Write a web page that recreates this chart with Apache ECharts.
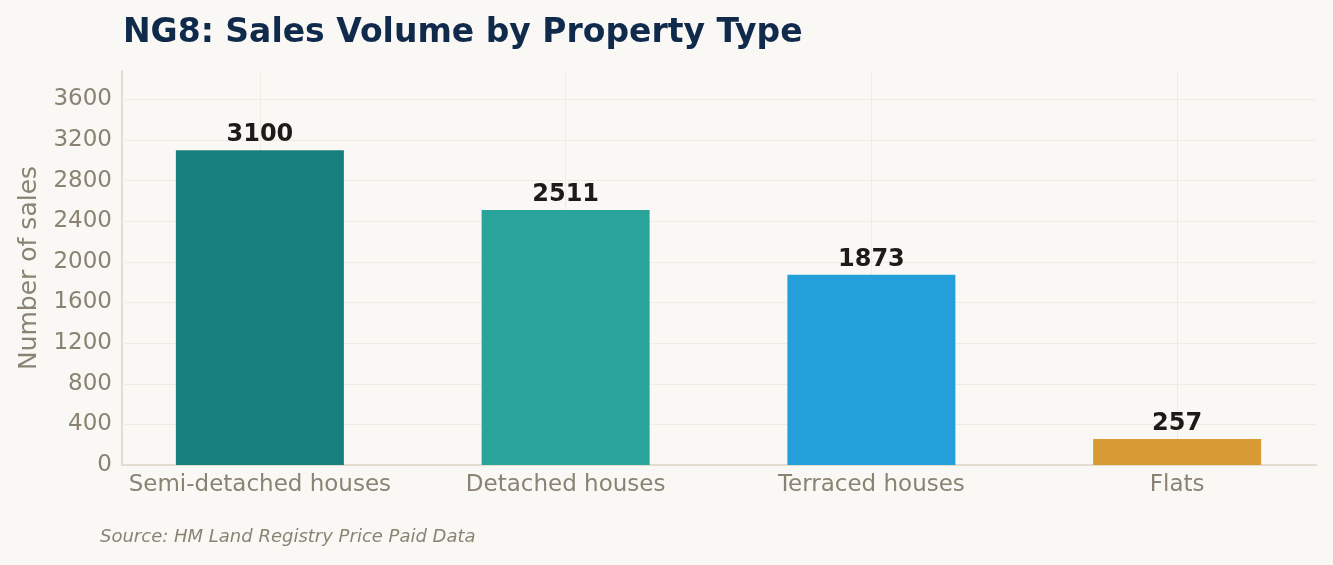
<!DOCTYPE html>
<html>
<head>
<meta charset="utf-8">
<script src="https://cdn.jsdelivr.net/npm/echarts@6/dist/echarts.min.js"></script>
<style>
  html, body { margin: 0; padding: 0; background: #F9F8F4; }
  #chart { width: 1333px; height: 565px; }
</style>
</head>
<body>
<div id="chart"></div>
<script>
let categories = ['Semi-detached houses', 'Detached houses', 'Terraced houses', 'Flats']
let sales = [3100, 2511, 1873, 257]
let barColors = ['#17807E', '#2AA39A', '#239FDA', '#D89A33']
let yTicks = [400, 800, 1200, 1600, 2000, 2400, 2800, 3200, 3600]

let myChart = echarts.init(document.getElementById('chart'))
let gridColor = '#EFECE4'
let textGrey = '#8A8373'

let option = {
  backgroundColor: '#F9F8F4',
  animation: false,
  title: {
    text: 'NG8: Sales Volume by Property Type',
    left: 118,
    top: 12,
    textStyle: { fontFamily: 'DejaVu Sans', fontSize: 33, fontWeight: 'bold', color: '#102A4C' }
  },
  graphic: [{
    type: 'text',
    left: 100,
    top: 528,
    style: {
      text: 'Source: HM Land Registry Price Paid Data',
      fontFamily: 'DejaVu Sans', fontSize: 18, fontStyle: 'italic', fill: textGrey
    }
  }],
  // grid 0 carries the y axis and horizontal grid, grid 1 places the bars
  grid: [
    { left: 122, right: 17, top: 71, bottom: 100 },
    { left: 107, right: 3, top: 71, bottom: 100 }
  ],
  xAxis: [
    {
      gridIndex: 0, type: 'category', data: categories,
      axisLine: { show: true, lineStyle: { color: '#E2DDCF', width: 2 } },
      axisTick: { show: false }, axisLabel: { show: false }, splitLine: { show: false }
    },
    {
      gridIndex: 1, type: 'category', data: categories,
      axisLine: { show: false }, axisTick: { show: false },
      axisLabel: { interval: 0, fontFamily: 'DejaVu Sans', fontSize: 23, color: textGrey, margin: 9 },
      splitLine: { show: false }
    }
  ],
  yAxis: [
    {
      gridIndex: 0, type: 'value', min: 0, max: 3880, interval: 400,
      name: 'Number of sales', nameLocation: 'middle', nameGap: 80,
      nameTextStyle: { fontFamily: 'DejaVu Sans', fontSize: 25, color: textGrey },
      axisLine: { show: true, lineStyle: { color: '#E2DDCF', width: 2 } },
      axisTick: { show: false },
      axisLabel: {
        fontFamily: 'DejaVu Sans', fontSize: 23, color: textGrey, margin: 10, showMaxLabel: false,
        formatter: v => String(v)
      },
      splitLine: { show: false }
    },
    {
      gridIndex: 1, type: 'value', min: 0, max: 3880, interval: 400, show: false,
      splitLine: { show: false }
    }
  ],
  series: [
    {
      type: 'line', xAxisIndex: 0, yAxisIndex: 0, data: [], z: 1,
      markLine: {
        z: 1, silent: true, symbol: 'none', label: { show: false },
        lineStyle: { color: gridColor, width: 1, type: 'solid' },
        data: yTicks.map(v => ({ yAxis: v }))
      }
    },
    {
      type: 'line', xAxisIndex: 1, yAxisIndex: 1, data: [], z: 1,
      markLine: {
        z: 1, silent: true, symbol: 'none', label: { show: false },
        lineStyle: { color: gridColor, width: 1, type: 'solid' },
        data: categories.map(c => ({ xAxis: c }))
      }
    },
    {
      type: 'bar', xAxisIndex: 1, yAxisIndex: 1, z: 3,
      barWidth: 168,
      data: sales.map((v, i) => ({ value: v, itemStyle: { color: barColors[i] } })),
      label: {
        show: true, position: 'top', distance: 3,
        fontFamily: 'DejaVu Sans', fontSize: 24, fontWeight: 'bold', color: '#1C1B18'
      }
    }
  ]
}
myChart.setOption(option)
</script>
</body>
</html>
